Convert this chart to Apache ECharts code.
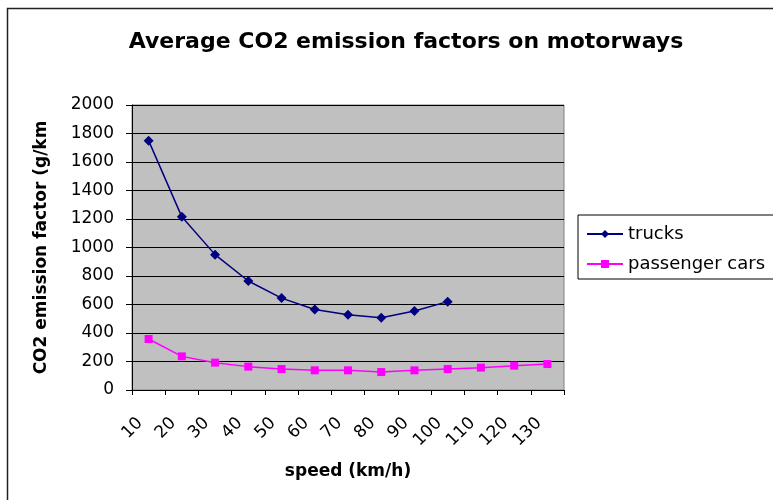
<!DOCTYPE html>
<html>
<head>
<meta charset="utf-8">
<script src="https://cdn.jsdelivr.net/npm/echarts@6/dist/echarts.min.js"></script>
<style>
  html, body { margin: 0; padding: 0; background: #fff; }
  #container { width: 773px; height: 500px; }
</style>
</head>
<body>
<div id="container"></div>
<script>
var speeds = ['10', '20', '30', '40', '50', '60', '70', '80', '90', '100', '110', '120', '130'];
var trucks = [1750, 1215, 950, 765, 645, 565, 528, 507, 554, 620];
var passengerCars = [358, 236, 192, 164, 147, 138, 138, 126, 138, 147, 157, 171, 182];

var font = 'DejaVu Sans, Arial, sans-serif';

var dom = document.getElementById('container');
var myChart = echarts.init(dom);

option = {
    backgroundColor: '#fff',
    animation: false,
    textStyle: { fontFamily: font },
    title: {
        text: 'Average CO2 emission factors on motorways',
        left: 401,
        top: 26,
        textAlign: 'center',
        textStyle: { fontFamily: font, fontSize: 22, fontWeight: 'bold', color: '#000' }
    },
    graphic: [{
        type: 'rect',
        shape: { x: 7.5, y: 8.5, width: 800, height: 600 },
        style: { fill: null, stroke: '#222', lineWidth: 1.5 },
        silent: true
    }],
    legend: {
        orient: 'vertical',
        left: 578,
        top: 215,
        padding: [10, 14, 6, 8],
        itemGap: 12,
        itemWidth: 36,
        itemHeight: 10,
        borderColor: '#000',
        borderWidth: 1,
        textStyle: { fontFamily: font, fontSize: 18, color: '#000' },
        data: ['trucks', 'passenger cars']
    },
    grid: {
        left: 132,
        right: 209,
        top: 105,
        bottom: 110,
        show: true,
        backgroundColor: '#C0C0C0',
        borderColor: '#808080',
        borderWidth: 1,
        containLabel: false
    },
    xAxis: {
        type: 'category',
        data: speeds,
        boundaryGap: true,
        name: 'speed (km/h)',
        nameLocation: 'middle',
        nameGap: 73,
        nameTextStyle: { fontFamily: font, fontSize: 17, fontWeight: 'bold', color: '#000' },
        axisLine: { lineStyle: { color: '#000', width: 1 } },
        axisTick: { show: true, length: 5, lineStyle: { color: '#000' } },
        axisLabel: { rotate: 45, margin: 22, padding: [0, 12, 0, 0], fontFamily: font, fontSize: 17, color: '#000', interval: 0 },
        splitLine: { show: false }
    },
    yAxis: {
        type: 'value',
        min: 0,
        max: 2000,
        interval: 200,
        name: 'CO2 emission factor (g/km',
        nameLocation: 'middle',
        nameGap: 82,
        nameTextStyle: { fontFamily: font, fontSize: 17, fontWeight: 'bold', color: '#000' },
        axisLine: { show: true, lineStyle: { color: '#000', width: 1 } },
        axisTick: { show: true, length: 6, lineStyle: { color: '#000' } },
        axisLabel: {
            margin: 18,
            fontFamily: font,
            fontSize: 17,
            color: '#000',
            formatter: function (v) { return String(v); }
        },
        splitLine: { show: true, lineStyle: { color: '#000', width: 1 } }
    },
    series: [
        {
            name: 'trucks',
            type: 'line',
            data: trucks,
            symbol: 'diamond',
            symbolSize: 10,
            color: '#000080',
            lineStyle: { color: '#000080', width: 1.5 },
            itemStyle: { color: '#000080' }
        },
        {
            name: 'passenger cars',
            type: 'line',
            data: passengerCars,
            symbol: 'rect',
            symbolSize: 8,
            color: '#FF00FF',
            lineStyle: { color: '#FF00FF', width: 1.5 },
            itemStyle: { color: '#FF00FF' }
        }
    ]
};
myChart.setOption(option, true);
</script>
</body>
</html>
